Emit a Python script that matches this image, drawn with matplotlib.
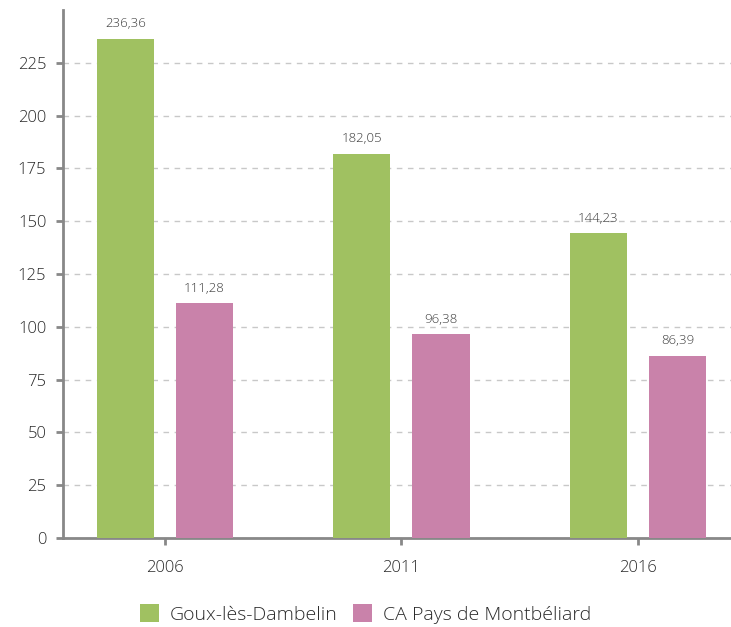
import numpy as np
from matplotlib import pyplot as plt

# Data
years = ["2006", "2011", "2016"]
goux = [236.36, 182.05, 144.23]
capm = [111.28, 96.38, 86.39]
series_labels = ["Goux-lès-Dambelin", "CA Pays de Montbéliard"]
colors = ["#a0c161", "#c982aa"]

plt.rcParams["font.family"] = ["Open Sans", "DejaVu Sans"]
plt.rcParams["font.weight"] = "light"

fig = plt.figure(figsize=(7.31, 6.27), dpi=100)
ax = fig.add_axes([63/731, 89/627, 1 - 63/731, 528/627])

x = np.arange(len(years))
w = 0.241
off = 0.167
b1 = ax.bar(x - off, goux, w, color=colors[0], label=series_labels[0], zorder=3)
b2 = ax.bar(x + off, capm, w, color=colors[1], label=series_labels[1], zorder=3)

for bars, vals in [(b1, goux), (b2, capm)]:
    for b, v in zip(bars, vals):
        ax.text(b.get_x() + b.get_width()/2, v + 4, f"{v:.2f}".replace(".", ","),
                ha="center", va="bottom", fontsize=9.5, color="#3a3a3a")

ax.set_xlim(-0.431, 2.393)
ax.set_ylim(0, 250)
ax.set_yticks(np.arange(0, 226, 25))
ax.set_xticks(x)
ax.set_xticklabels(years)
ax.yaxis.grid(True, linestyle=(0, (4, 4)), color="#c8c8c8", lw=1, zorder=0)
ax.set_axisbelow(True)

for s in ["top", "right"]:
    ax.spines[s].set_visible(False)
ax.spines["left"].set_color("#888888")
ax.spines["bottom"].set_color("#888888")
ax.spines["left"].set_linewidth(2)
ax.spines["bottom"].set_linewidth(2)
ax.tick_params(axis="y", length=5, width=2, color="#888888", labelsize=12, labelcolor="#2a2a2a", pad=7)
ax.tick_params(axis="x", length=5, width=2, color="#888888", labelsize=12, labelcolor="#2a2a2a", pad=11)

fig.legend(loc="center", bbox_to_anchor=(0.5, 1 - 614/627), ncol=2, frameon=False,
           fontsize=14, handlelength=1.0, handleheight=1.0, columnspacing=0.8,
           handletextpad=0.55, labelcolor="#2a2a2a")

plt.savefig("out.png", dpi=100)
